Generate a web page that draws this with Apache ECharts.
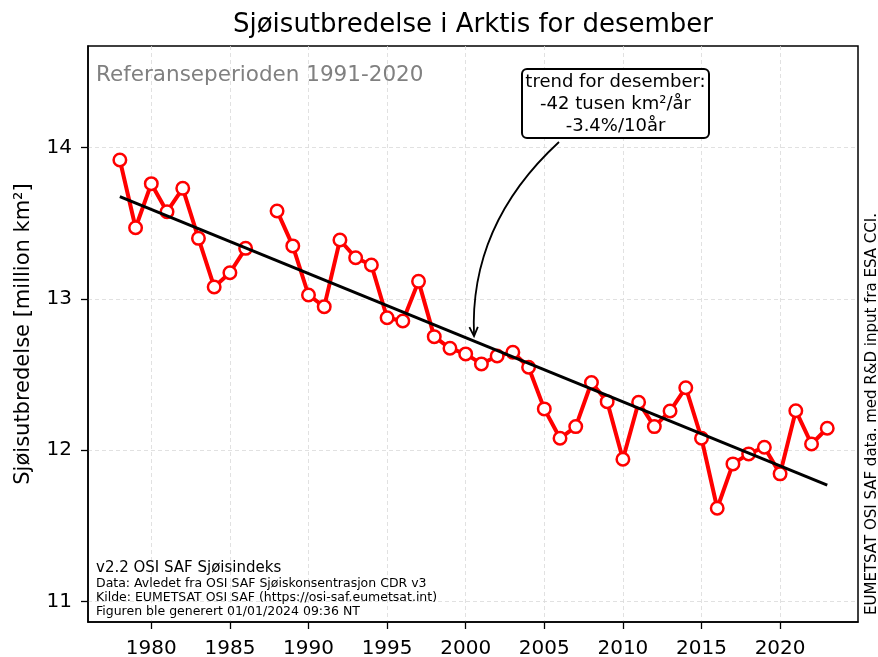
<!DOCTYPE html>
<html><head><meta charset="utf-8">
<script src="https://cdn.jsdelivr.net/npm/echarts@6/dist/echarts.min.js"></script>
<style>html,body{margin:0;padding:0;background:#fff}#c{width:878px;height:657px}</style>
</head><body><div id="c"></div>
<script>
const years = [1978,1979,1980,1981,1982,1983,1984,1985,1986,1987,1988,1989,1990,1991,1992,1993,1994,1995,1996,1997,1998,1999,2000,2001,2002,2003,2004,2005,2006,2007,2008,2009,2010,2011,2012,2013,2014,2015,2016,2017,2018,2019,2020,2021,2022,2023];
const extentValues = [13.916,13.469,13.760,13.575,13.729,13.399,13.078,13.172,13.333,null,13.580,13.349,13.025,12.948,13.388,13.271,13.223,12.875,12.853,13.115,12.750,12.673,12.636,12.570,12.622,12.647,12.548,12.273,12.079,12.156,12.447,12.321,11.941,12.317,12.156,12.259,12.413,12.079,11.617,11.910,11.976,12.020,11.844,12.261,12.041,12.145];
const trendYears = [1978, 2023];
const trendValues = [13.674, 11.769];
const xTickValues = [1980,1985,1990,1995,2000,2005,2010,2015,2020];
const yTickValues = [11,12,13,14];
const titleText = 'Sjøisutbredelse i Arktis for desember';
const yAxisName = 'Sjøisutbredelse [million km²]';
const refText = 'Referanseperioden 1991-2020';
const trendLines = ['trend for desember:', '-42 tusen km²/år', '-3.4%/10år'];
const footerTitle = 'v2.2 OSI SAF Sjøisindeks';
const footerLines = ['Data: Avledet fra OSI SAF Sjøiskonsentrasjon CDR v3','Kilde: EUMETSAT OSI SAF (https://osi-saf.eumetsat.int)','Figuren ble generert 01/01/2024 09:36 NT'];
const sideText = 'EUMETSAT OSI SAF data. med R&D input fra ESA CCI.';
const arrowTip = [2000.53, 12.754];

const FONT = 'DejaVu Sans';
const chart = echarts.init(document.getElementById('c'), null, {renderer:'canvas'});
const lineData = years.map((y,i)=>[y, extentValues[i]==null ? '-' : extentValues[i]]);
const trendData = trendYears.map((y,i)=>[y, trendValues[i]]);

const option = {
  animation:false,
  backgroundColor:'#fff',
  grid:{left:88,right:20,top:46,bottom:35,containLabel:false,outerBoundsMode:'none',show:true,borderColor:'#000',borderWidth:1.5,backgroundColor:'transparent'},
  xAxis:{type:'value',min:1975.973,max:2024.956,
    axisLine:{show:true,onZero:false,lineStyle:{color:'#000',width:1.5}},
    axisTick:{show:true,customValues:xTickValues,length:7,lineStyle:{color:'#000',width:1.3}},
    axisLabel:{customValues:xTickValues,formatter:v=>String(v),fontFamily:FONT,fontSize:20,color:'#000',margin:17},
    splitLine:{show:true,lineStyle:{color:'#d9d9d9',type:[4,3],width:0.8}}
  },
  yAxis:{type:'value',min:10.866,max:14.669,
    name:yAxisName,nameLocation:'middle',nameGap:54,nameRotate:90,
    nameTextStyle:{fontFamily:FONT,fontSize:21,color:'#000'},
    axisLine:{show:true,onZero:false,lineStyle:{color:'#000',width:1.5}},
    axisTick:{show:true,customValues:yTickValues,length:7,lineStyle:{color:'#000',width:1.3}},
    axisLabel:{customValues:yTickValues,formatter:v=>String(v),fontFamily:FONT,fontSize:20,color:'#000',margin:16},
    splitLine:{show:true,lineStyle:{color:'#d9d9d9',type:[4,3],width:0.8}}
  },
  series:[
    {type:'line',data:lineData,connectNulls:false,z:3,
     lineStyle:{color:'#ff0000',width:4},
     symbol:'circle',symbolSize:12.5,
     itemStyle:{color:'#ffffff',borderColor:'#ff0000',borderWidth:2.5}},
    {type:'line',data:trendData,z:4,symbol:'none',
     lineStyle:{color:'#000',width:3}}
  ]
};
chart.setOption(option);

const tip = chart.convertToPixel({gridIndex:0}, arrowTip);
const start = [559,142];
const ctrl = [469,225];
let dx = tip[0]-ctrl[0], dy = tip[1]-ctrl[1];
const L = Math.hypot(dx,dy); dx/=L; dy/=L;
const ang = 25*Math.PI/180, hl = 10;
function rot(x,y,a){return [x*Math.cos(a)-y*Math.sin(a), x*Math.sin(a)+y*Math.cos(a)];}
const h1 = rot(-dx,-dy,ang), h2 = rot(-dx,-dy,-ang);

const boxCx = 615.5;
chart.setOption({graphic:[
  {type:'text',x:473,y:25,style:{text:titleText,fontFamily:FONT,fontSize:26,fill:'#000',textAlign:'center',textVerticalAlign:'middle'}},
  {type:'text',x:96,y:75,z:10,style:{text:refText,fontFamily:FONT,fontSize:21.5,fill:'#808080',textAlign:'left',textVerticalAlign:'middle'}},
  {type:'rect',z:10,shape:{x:522,y:69,width:187,height:69,r:5},style:{fill:'#fff',stroke:'#000',lineWidth:2}},
  {type:'text',z:11,x:boxCx,y:82,style:{text:trendLines[0],fontFamily:FONT,fontSize:18,fill:'#000',textAlign:'center',textVerticalAlign:'middle'}},
  {type:'text',z:11,x:boxCx,y:104,style:{text:trendLines[1],fontFamily:FONT,fontSize:18,fill:'#000',textAlign:'center',textVerticalAlign:'middle'}},
  {type:'text',z:11,x:boxCx,y:126,style:{text:trendLines[2],fontFamily:FONT,fontSize:18,fill:'#000',textAlign:'center',textVerticalAlign:'middle'}},
  {type:'bezierCurve',z:10,shape:{x1:start[0],y1:start[1],x2:tip[0],y2:tip[1],cpx1:ctrl[0],cpy1:ctrl[1]},style:{stroke:'#000',lineWidth:1.8,fill:null}},
  {type:'polyline',z:10,shape:{points:[[tip[0]+h1[0]*hl,tip[1]+h1[1]*hl],tip,[tip[0]+h2[0]*hl,tip[1]+h2[1]*hl]]},style:{stroke:'#000',lineWidth:1.8,fill:null}},
  {type:'text',z:10,x:96,y:568,style:{text:footerTitle,fontFamily:FONT,fontSize:15,fill:'#000',textAlign:'left',textVerticalAlign:'middle'}},
  {type:'text',z:10,x:96,y:584,style:{text:footerLines[0],fontFamily:FONT,fontSize:12.5,fill:'#000',textAlign:'left',textVerticalAlign:'middle'}},
  {type:'text',z:10,x:96,y:597.5,style:{text:footerLines[1],fontFamily:FONT,fontSize:12.5,fill:'#000',textAlign:'left',textVerticalAlign:'middle'}},
  {type:'text',z:10,x:96,y:611.5,style:{text:footerLines[2],fontFamily:FONT,fontSize:12.5,fill:'#000',textAlign:'left',textVerticalAlign:'middle'}},
  {type:'text',z:10,x:872,y:414,rotation:Math.PI/2,style:{text:sideText,fontFamily:FONT,fontSize:15,fill:'#000',textAlign:'center',textVerticalAlign:'middle'}}
]});
</script>
</body></html>
